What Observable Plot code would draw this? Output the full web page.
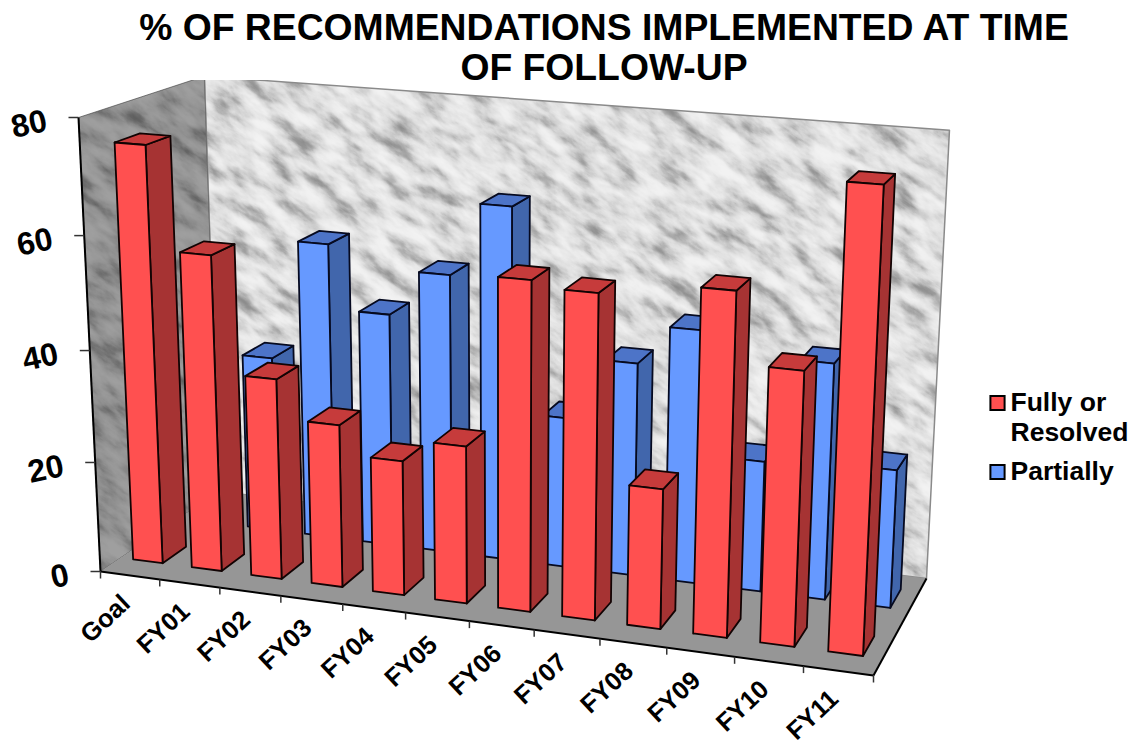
<!DOCTYPE html>
<html>
<head>
<meta charset="utf-8">
<script src="https://cdn.jsdelivr.net/npm/d3@7"></script>
<script src="https://cdn.jsdelivr.net/npm/@observablehq/plot@0.6"></script>
<style>
  html, body { margin: 0; padding: 0; background: #fff; overflow: hidden; }
  body { width: 1135px; height: 744px; font-family: "Liberation Sans", Arial, sans-serif; }
  h1 { box-sizing: border-box; margin: 0; width: 1135px; height: 80px; padding: 7px 0 0 73px;
       font-size: 37.3px; line-height: 40px; font-weight: bold; text-align: center; color: #000; white-space: nowrap; }
  #chart svg { display: block; }
</style>
</head>
<body>
<h1>% OF RECOMMENDATIONS IMPLEMENTED AT TIME<br>OF FOLLOW-UP</h1>
<div id="chart"></div>
<script>
const categories = ["Goal", "FY01", "FY02", "FY03", "FY04", "FY05", "FY06", "FY07", "FY08", "FY09", "FY10", "FY11"];
const fullyOrResolved = [74.7, 56.7, 36.1, 29.2, 24.1, 28, 57.6, 56.5, 24.5, 59, 47, 77.9];
const partially = [null, 32.7, 54.7, 43, 51.2, 64.3, 27.5, 38.7, 45.7, 23.6, 42.2, 24.7];
const valueTicks = [0, 20, 40, 60, 80];
const valueMax = 80;

// Perspective camera: screen positions of the plot box corners.
const box = {
  frontLeft: [100, 571], frontRight: [873, 675], backRight: [926, 578], backLeft: [218, 491],
  frontLeftTop: [78, 117], backLeftTop: [206, 83], backRightTop: [949, 122]
};

function makeCamera(b) {
  const [x0, y0] = b.frontLeft, [x1, y1] = b.frontRight, [x2, y2] = b.backRight, [x3, y3] = b.backLeft;
  const a11 = x2 - x1, a12 = x2 - x3, r1 = x1 + x3 - x0 - x2;
  const a21 = y2 - y1, a22 = y2 - y3, r2 = y1 + y3 - y0 - y2;
  const det = a11 * a22 - a12 * a21;
  const g = (r1 * a22 - a12 * r2) / det, h = (a11 * r2 - a21 * r1) / det;
  const Ax = x1 * (1 + g) - x0, Bx = x3 * (1 + h) - x0;
  const Ay = y1 * (1 + g) - y0, By = y3 * (1 + h) - y0;
  const [xv, yv] = b.frontLeftTop;
  let num = 0, den = 0;
  for (const [[X, Y], u, d] of [[b.backLeftTop, 0, 1], [b.backRightTop, 1, 1]]) {
    const w = 1 + g * u + h * d;
    const ax = X - xv, bx = Ax * u + Bx * d + xv - X * w;
    const ay = Y - yv, by = Ay * u + By * d + yv - Y * w;
    num += ax * bx + ay * by; den += ax * ax + ay * ay;
  }
  const k = num / den;
  const Cx = xv * (1 + k) - x0, Cy = yv * (1 + k) - y0;
  return (u, d, v) => {
    const un = u / categories.length, vn = v / valueMax;
    const w = 1 + g * un + h * d + k * vn;
    return [(x0 + Ax * un + Bx * d + Cx * vn) / w, (y0 + Ay * un + By * d + Cy * vn) / w];
  };
}
const project = makeCamera(box);

let nextId = 0;
// One closed polygon as rows for a Plot.line grouped on z.
function polygon(corners, props = {}) {
  const id = nextId++;
  return [...corners, corners[0]].map(([u, d, v]) => {
    const [x, y] = project(u, d, v);
    return {id, x, y, ...props};
  });
}

const faceColors = {
  red: {front: "#ff5050", side: "#a63333", top: "#c63b3b"},
  blue: {front: "#6699ff", side: "#4166ac", top: "#4d74c8"}
};

// Column takes about half of its category cell, inside its depth slot.
function column(i, value, d0, d1, colors) {
  const u0 = i + 0.21, u1 = i + 0.715;
  return [
    ...polygon([[u1, d0, 0], [u1, d1, 0], [u1, d1, value], [u1, d0, value]], {fill: colors.side}),
    ...polygon([[u0, d0, value], [u1, d0, value], [u1, d1, value], [u0, d1, value]], {fill: colors.top}),
    ...polygon([[u0, d0, 0], [u1, d0, 0], [u1, d0, value], [u0, d0, value]], {fill: colors.front})
  ];
}

const blueFaces = partially.flatMap((v, i) => v == null ? [] : column(i, v, 0.65, 0.85, faceColors.blue));
const redFaces = fullyOrResolved.flatMap((v, i) => column(i, v, 0.16, 0.355, faceColors.red));

const n = categories.length;
const backWall = polygon([[0, 1, 0], [n, 1, 0], [n, 1, valueMax], [0, 1, valueMax]]);
const leftWall = polygon([[0, 0, 0], [0, 1, 0], [0, 1, valueMax], [0, 0, valueMax]]);
const floor = polygon([[0, 0, 0], [n, 0, 0], [n, 1, 0], [0, 1, 0]]);

const segment = (a, b) => { const [x1, y1] = project(...a), [x2, y2] = project(...b); return {x1, y1, x2, y2}; };
const axisLines = [segment([0, 0, 0], [0, 0, valueMax]), segment([0, 0, 0], [n, 0, 0]), segment([n, 0, 0], [n, 1, 0])];

const valuePoints = valueTicks.map(v => { const [x, y] = project(0, 0, v); return {v, x, y}; });
const catBoundaries = d3.range(n + 1).map(i => { const [x, y] = project(i, 0, 0); return {x, y}; });
const catLabels = categories.map((name, i) => { const [x, y] = project(i + 0.5, 0, 0); return {name, x, y}; });

const legendSeries = [
  {label: ["Fully or", "Resolved"], fill: faceColors.red.front, y: 402.5},
  {label: ["Partially"], fill: faceColors.blue.front, y: 471.5}
];
const legendText = legendSeries.flatMap(s => s.label.map((t, j) => ({t, y: s.y + j * 30})));

const font = {fontFamily: "Liberation Sans", fontWeight: "bold", fill: "#000"};

const svg = Plot.plot({
  width: 1135, height: 664, margin: 0,
  x: {type: "linear", domain: [0, 1135], range: [0, 1135], axis: null},
  y: {type: "linear", domain: [80, 744], range: [0, 664], axis: null},
  color: {type: "identity"},
  style: {background: "#fff", fontFamily: "Liberation Sans"},
  marks: [
    Plot.line(backWall, {x: "x", y: "y", z: "id", fill: "url(#marble)", stroke: "#8a8a8a", strokeWidth: 1.5}),
    Plot.line(leftWall, {x: "x", y: "y", z: "id", fill: "url(#marble)", stroke: "#8a8a8a", strokeWidth: 1}),
    Plot.line(leftWall, {x: "x", y: "y", z: "id", fill: "#000", fillOpacity: 0.34, stroke: "none"}),
    Plot.line(floor, {x: "x", y: "y", z: "id", fill: "#969696", stroke: "none"}),
    Plot.link(axisLines, {x1: "x1", y1: "y1", x2: "x2", y2: "y2", stroke: "#000", strokeWidth: 2}),
    Plot.link(valuePoints, {x1: d => d.x - 10, x2: "x", y1: "y", y2: "y", stroke: "#333", strokeWidth: 1.5}),
    Plot.link(catBoundaries, {x1: "x", x2: "x", y1: "y", y2: d => d.y + 7, stroke: "#333", strokeWidth: 1.5}),
    Plot.line(blueFaces, {x: "x", y: "y", z: "id", fill: "fill", stroke: "#060a20", strokeWidth: 1.8, strokeLinejoin: "round"}),
    Plot.line(redFaces, {x: "x", y: "y", z: "id", fill: "fill", stroke: "#120303", strokeWidth: 1.8, strokeLinejoin: "round"}),
    Plot.text(valuePoints, {x: "x", y: "y", text: d => String(d.v), textAnchor: "end", dx: -32, dy: 3, rotate: -12, fontSize: 32, ...font}),
    Plot.text(catLabels, {x: "x", y: "y", text: "name", textAnchor: "end", dx: -4, dy: 24, rotate: -43, fontSize: 25.5, ...font}),
    Plot.dot(legendSeries, {x: () => 997, y: "y", symbol: "square", r: 8, fill: "fill", stroke: "#000", strokeWidth: 2}),
    Plot.text(legendText, {x: () => 1010, y: "y", text: "t", textAnchor: "start", fontSize: 26.5, ...font})
  ]
});

// Marble surface for the walls: pale fractal noise with fine grey flecks, defined once in the chart's SVG.
const marbleTable = "0.55 0.55 0.60 0.70 0.80 0.87 0.91 0.94 0.95 0.95 0.95";
svg.insertAdjacentHTML("afterbegin", `
  <defs>
    <filter id="marbleNoise" x="0" y="0" width="100%" height="100%" color-interpolation-filters="sRGB">
      <feTurbulence type="fractalNoise" baseFrequency="0.025 0.065" numOctaves="6" seed="7"/>
      <feColorMatrix type="matrix" values="1 0 0 0 0  1 0 0 0 0  1 0 0 0 0  0 0 0 0 1"/>
      <feComponentTransfer>
        <feFuncR type="table" tableValues="${marbleTable}"/>
        <feFuncG type="table" tableValues="${marbleTable}"/>
        <feFuncB type="table" tableValues="${marbleTable}"/>
      </feComponentTransfer>
      <feGaussianBlur stdDeviation="0.7"/>
    </filter>
    <pattern id="marble" patternUnits="userSpaceOnUse" width="2000" height="2000" patternTransform="translate(0 -800) rotate(35)">
      <rect width="2000" height="2000" filter="url(#marbleNoise)"/>
    </pattern>
  </defs>`);

document.getElementById("chart").append(svg);
</script>
</body>
</html>
